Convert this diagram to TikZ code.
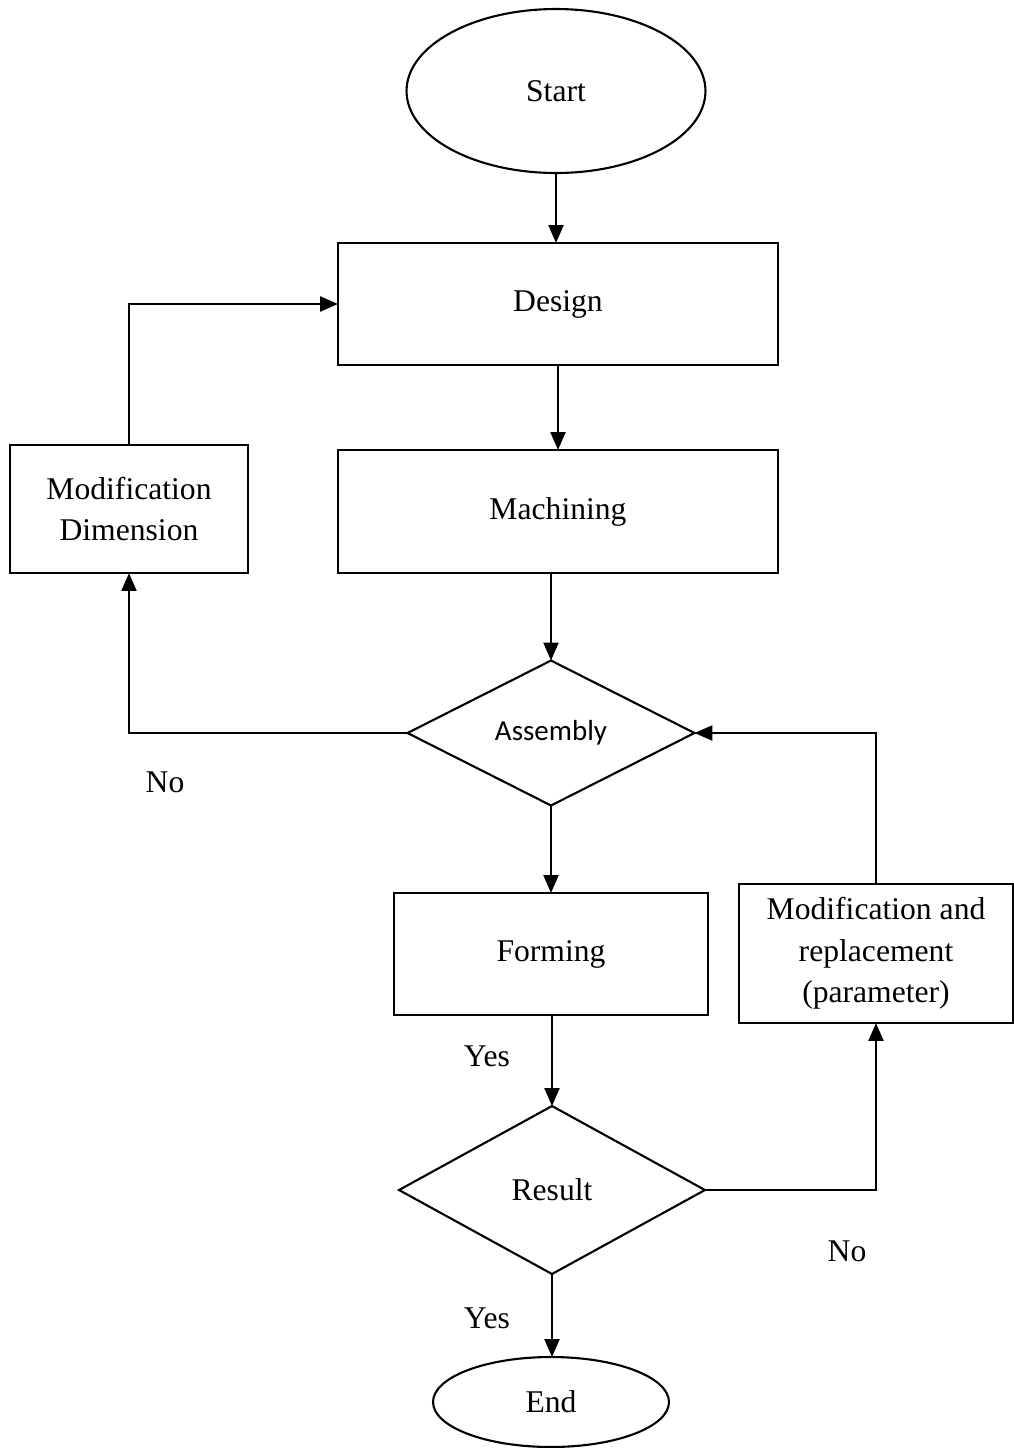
\documentclass[tikz,border=0pt]{standalone}
\usepackage{fontspec}
\setmainfont{Liberation Serif}
\newfontfamily\calib{Carlito}
\usetikzlibrary{shapes.geometric,arrows.meta}
\begin{document}
\begin{tikzpicture}[x=0.02cm,y=-0.02cm,
  every node/.style={inner sep=0pt,outer sep=0pt,font=\fontsize{18}{23.5}\selectfont},
  box/.style={draw,line width=1.2pt,rectangle,align=center},
  oval/.style={draw,line width=1.2pt,ellipse},
  dia/.style={draw,line width=1.2pt,diamond},
  conn/.style={line width=1.3pt,-{Triangle[length=0.36cm,width=0.3cm]}},
  lbl/.style={font=\fontsize{18}{23.5}\selectfont}]
\useasboundingbox (0,0) rectangle (1014,1448);
\node[oval,minimum width=5.98cm,minimum height=3.28cm] (start) at (556,91) {Start};
\node[box,minimum width=8.8cm,minimum height=2.44cm] (design) at (558,304) {Design};
\node[box,minimum width=8.8cm,minimum height=2.46cm] (mach) at (558,511.5) {Machining};
\node[box,minimum width=4.76cm,minimum height=2.56cm] (moddim) at (129,509) {Modification\\Dimension};
\node[dia,minimum width=5.74cm,minimum height=2.9cm,font=\calib\fontsize{16.5}{20}\selectfont] (asm) at (551,733) {Assembly};
\node[box,minimum width=6.28cm,minimum height=2.44cm] (form) at (551,954) {Forming};
\node[box,minimum width=5.48cm,minimum height=2.78cm] (modrep) at (876,953.5) {Modification and\\replacement\\(parameter)};
\node[dia,minimum width=6.12cm,minimum height=3.36cm] (res) at (552,1190) {Result};
\node[oval,minimum width=4.72cm,minimum height=1.8cm] (endn) at (551,1402) {End};

\node[lbl] (no1) at (165,782) {No};
\node[lbl] (yes1) at (487,1056) {Yes};
\node[lbl] (no2) at (847,1251) {No};
\node[lbl] (yes2) at (487,1318) {Yes};

\draw[conn] (start.south) -- (start.south |- design.north);
\draw[conn] (design.south) -- (mach.north);
\draw[conn] (asm.north |- mach.south) -- (asm.north);
\draw[conn] (asm.west) -| (moddim.south);
\draw[conn] (moddim.north) |- (design.west);
\draw[conn] (asm.south) -- (asm.south |- form.north);
\draw[conn] (res.north |- form.south) -- (res.north);
\draw[conn] (res.east) -| (modrep.south);
\draw[conn] (modrep.north) |- (asm.east);
\draw[conn] (res.south) -- (res.south |- endn.north);
\end{tikzpicture}
\end{document}
